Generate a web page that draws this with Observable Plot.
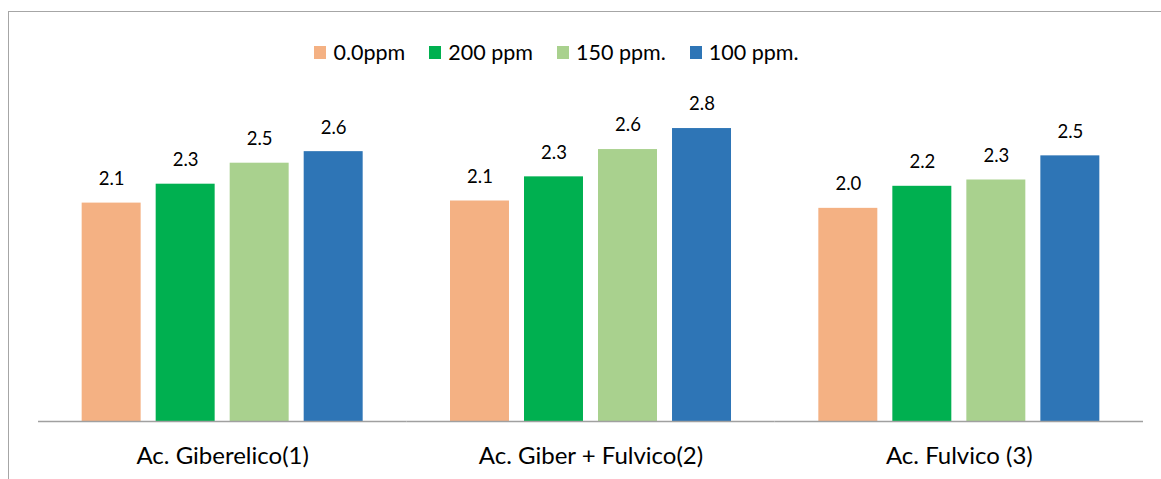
<!DOCTYPE html>
<html>
<head>
<meta charset="utf-8">
<script src="https://cdn.jsdelivr.net/npm/d3@7"></script>
<script src="https://cdn.jsdelivr.net/npm/@observablehq/plot@0.6"></script>
<style>
  html, body { margin: 0; padding: 0; background: #fff; }
  #wrap { position: relative; width: 1161px; height: 479px; overflow: hidden; font-family: Lato, "Open Sans", sans-serif; }
  #frame { position: absolute; left: 8px; top: 11px; width: 1200px; height: 500px; border-left: 1.5px solid #a6a6a6; border-top: 1.5px solid #a6a6a6; }
  #chart { position: absolute; left: 0; top: 0; }
  #legend { position: absolute; left: -24px; width: 1161px; top: 39px; display: flex; justify-content: center; align-items: center; font-size: 21.5px; color: #000; box-sizing: border-box; }
  .item { display: flex; align-items: center; margin: 0 12px; }
  .sw { width: 12px; height: 13px; margin-right: 7px; }
</style>
</head>
<body>
<div id="wrap">
  <div id="frame"></div>
  <div id="chart"></div>
  <div id="legend"></div>
</div>
<script>
const categories = ["Ac. Giberelico(1)", "Ac. Giber + Fulvico(2)", "Ac. Fulvico (3)"];
const seriesNames = ["0.0ppm", "200 ppm", "150 ppm.", "100 ppm."];
const seriesColors = ["#F4B183", "#00B050", "#A9D18E", "#2E75B6"];
const s00 = [2.08, 2.10, 2.03];
const s200 = [2.26, 2.33, 2.24];
const s150 = [2.46, 2.59, 2.30];
const s100 = [2.57, 2.79, 2.53];

const seriesValues = [s00, s200, s150, s100];
const data = [];
categories.forEach((c, i) => {
  seriesNames.forEach((s, j) => {
    data.push({ category: c, series: s, value: seriesValues[j][i] });
  });
});

const chart = Plot.plot({
  width: 1161,
  height: 479,
  marginLeft: 38,
  marginRight: 18,
  marginTop: 106,
  marginBottom: 58,
  style: { fontFamily: "Lato, 'Open Sans', sans-serif", background: "transparent" },
  fx: { domain: categories, padding: 0, round: false, label: null, axis: null },
  x: { domain: seriesNames, paddingInner: 0.203, paddingOuter: 0.59, round: false, axis: null },
  y: { domain: [0, 3], axis: null },
  color: { domain: seriesNames, range: seriesColors },
  marks: [
    Plot.barY(data, { fx: "category", x: "series", y: "value", fill: "series" }),
    Plot.text(data, { fx: "category", x: "series", y: "value", text: d => d.value.toFixed(1), dy: -24, fontSize: 18.5, fill: "#000" }),
    Plot.ruleY([0], { stroke: "#a0a0a0", strokeWidth: 1.3 }),
    Plot.axisFx({ anchor: "bottom", tickSize: 0, tickPadding: 25, fontSize: 24, label: null, color: "#000" })
  ]
});
document.getElementById("chart").appendChild(chart);

const legend = document.getElementById("legend");
seriesNames.forEach((s, j) => {
  const it = document.createElement("div");
  it.className = "item";
  const sw = document.createElement("div");
  sw.className = "sw";
  sw.style.background = seriesColors[j];
  const t = document.createElement("span");
  t.textContent = s;
  it.appendChild(sw);
  it.appendChild(t);
  legend.appendChild(it);
});
</script>
</body>
</html>
